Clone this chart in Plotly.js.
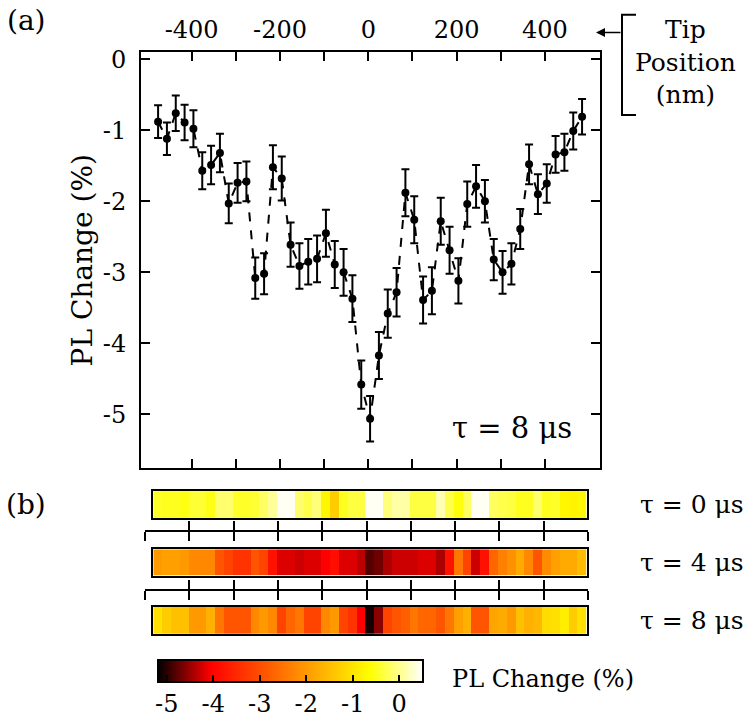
<!DOCTYPE html>
<html>
<head>
<meta charset="utf-8">
<script src="https://cdn.plot.ly/plotly-3.0.1.min.js"></script>
<style>
  html, body { margin: 0; padding: 0; background: #fff; }
  #chart { width: 748px; height: 728px; }
</style>
</head>
<body>
<div id="chart"></div>
<script>
// tip position (nm) of each measurement / heatmap cell
const tipPos = [-476, -456, -436, -416, -396, -376, -356, -336, -316, -296,
  -276, -256, -236, -216, -196, -176, -156, -136, -116, -96,
  -76, -56, -36, -16, 4, 24, 44, 64, 84, 104,
  124, 144, 164, 184, 204, 224, 244, 264, 284, 304,
  324, 344, 364, 384, 404, 424, 444, 464, 484];

// (a) PL change at tau = 8 us, with error bars
const plChange = [-0.88, -1.12, -0.76, -0.89, -0.98, -1.57, -1.49, -1.32, -2.03, -1.74,
  -1.72, -3.08, -3.02, -1.52, -1.68, -2.61, -2.91, -2.85, -2.81, -2.45,
  -2.89, -3.00, -3.37, -4.58, -5.06, -4.17, -3.58, -3.28, -1.88, -2.26,
  -3.39, -3.26, -2.28, -2.69, -3.12, -2.04, -1.79, -2.00, -2.82, -3.00,
  -2.88, -2.39, -1.48, -1.90, -1.75, -1.34, -1.31, -1.01, -0.81];
const plErr = [0.23, 0.23, 0.25, 0.25, 0.26, 0.26, 0.27, 0.27, 0.28, 0.28,
  0.28, 0.29, 0.29, 0.31, 0.31, 0.31, 0.32, 0.32, 0.33, 0.33,
  0.33, 0.33, 0.33, 0.34, 0.32, 0.33, 0.34, 0.34, 0.33, 0.33,
  0.33, 0.33, 0.33, 0.33, 0.32, 0.32, 0.30, 0.30, 0.29, 0.30,
  0.29, 0.28, 0.28, 0.28, 0.27, 0.26, 0.26, 0.26, 0.25];

// (b) heatmap strips
const stripLabels = ['τ = 0 μs', 'τ = 4 μs', 'τ = 8 μs'];
const strip0 = [-0.45, -0.5, -0.5, -0.55, -0.4, -0.4, -0.55, -0.15, -0.15, -0.45,
  -0.45, -0.4, -0.2, 0.05, 0.45, 0.45, -0.15, -0.3, -0.1, -0.75,
  -1.32, -0.5, -0.35, -0.35, 0.45, 0.45, -0.1, 0.1, 0.1, -0.35,
  -0.35, -0.35, 0.15, -0.3, -0.6, -0.2, 0.45, 0.45, -0.2, -0.3,
  -0.35, -0.5, -0.5, -0.15, -0.5, -0.45, -0.75, -0.8, -0.75];
const strip4 = [-2.01, -1.92, -1.92, -2.01, -2.24, -2.24, -2.24, -2.92, -3.15, -3.38,
  -3.38, -2.92, -3.15, -3.83, -4.21, -4.21, -4.29, -4.21, -4.21, -4.06,
  -3.88, -4.21, -4.21, -4.36, -4.82, -4.70, -4.44, -4.29, -4.29, -4.29,
  -4.21, -4.21, -4.44, -3.83, -2.46, -3.15, -4.29, -3.83, -2.69, -2.35,
  -2.12, -1.78, -2.24, -2.92, -2.18, -1.92, -1.78, -1.78, -1.55];
const strip8 = [-1.06, -1.32, -1.49, -1.49, -2.01, -2.01, -1.70, -2.46, -2.92, -2.92,
  -2.92, -2.24, -2.01, -2.24, -3.15, -2.69, -2.46, -3.15, -3.15, -2.24,
  -2.01, -3.15, -3.38, -4.06, -5.10, -4.58, -3.15, -2.92, -2.78, -2.46,
  -2.69, -2.69, -2.92, -2.46, -1.92, -1.70, -2.92, -2.92, -1.85, -1.78,
  -2.01, -1.49, -1.70, -1.60, -1.10, -1.06, -0.87, -1.32, -1.06];

const yTicks = [0, -1, -2, -3, -4, -5];
const xTicks = [-400, -300, -200, -100, 0, 100, 200, 300, 400];
const xTickText = ['-400', '', '-200', '', '0', '', '200', '', '400'];
const sepTicks = [-500, -400, -300, -200, -100, 0, 100, 200, 300, 400, 500];
const cbTicks = [-5, -4, -3, -2, -1, 0];

const W = 748, H = 728;
const px = x => x / W;
const py = y => 1 - y / H;
const FONT = 'DejaVu Serif';

// paper-positioned text, always centred on (x, y) in pixels
const label = (text, x, y, size, extra) => ({
  text, x: px(x), y: py(y), xref: 'paper', yref: 'paper',
  xanchor: 'center', yanchor: 'middle', showarrow: false, font: { size },
  ...extra,
});

const traces = [{
  x: tipPos, y: plChange,
  type: 'scatter', mode: 'lines+markers',
  line: { color: '#000', width: 2, dash: 'dash' },
  marker: { color: '#000', size: 8 },
  error_y: { type: 'data', array: plErr, visible: true, color: '#000', thickness: 2, width: 4 },
  hoverinfo: 'skip',
}];

[strip0, strip4, strip8].forEach((z, i) => {
  traces.push({
    type: 'heatmap', x: tipPos, y: [0], z: [z],
    coloraxis: 'coloraxis',
    xaxis: 'x' + (i + 2), yaxis: 'y' + (i + 2),
    hoverinfo: 'skip',
  });
});
// invisible traces so each tick ruler (two overlaid axes) gets its subplots
['x5', 'x7', 'x6', 'x8'].forEach((xa, i) => {
  traces.push({
    x: [0], y: [0.5], type: 'scatter', mode: 'markers',
    marker: { opacity: 0 }, showlegend: false, hoverinfo: 'skip',
    xaxis: xa, yaxis: i < 2 ? 'y5' : 'y6',
  });
});

const frameAx = {
  showline: true, mirror: true, linecolor: '#000', linewidth: 2,
  ticks: '', showticklabels: false, showgrid: false, zeroline: false, fixedrange: true,
};
const stripDom = [[500, 527.3], [559.3, 586], [618, 645.3]];
const sepY = [540, 600];

const layout = {
  width: W, height: H,
  margin: { l: 0, r: 0, t: 0, b: 0 },
  paper_bgcolor: '#fff', plot_bgcolor: 'rgba(0,0,0,0)',
  showlegend: false,
  font: { family: FONT, color: '#000', size: 24 },
  xaxis: {
    domain: [px(141), px(600)], range: [-514.7, 524.6], anchor: 'y', side: 'top',
    tickvals: xTicks, ticktext: xTickText,
    ticks: 'inside', ticklen: 9, tickwidth: 2, tickcolor: '#000',
    showline: true, mirror: 'ticks', linecolor: '#000', linewidth: 2,
    showgrid: false, zeroline: false, ticklabelstandoff: 2,
    tickfont: { size: 24 },
  },
  yaxis: {
    domain: [py(477), py(53)], range: [-5.76, 0.1], anchor: 'x',
    tickvals: yTicks, ticktext: yTicks.map(String),
    ticks: 'inside', ticklen: 9, tickwidth: 2, tickcolor: '#000',
    showline: true, mirror: 'ticks', linecolor: '#000', linewidth: 2,
    showgrid: false, zeroline: false, ticklabelstandoff: 8,
    tickfont: { size: 24 },
    title: { text: 'PL Change (%)', font: { size: 28 }, standoff: 2 },
  },
  coloraxis: {
    cmin: -5.2, cmax: 0.5,
    colorscale: [[0, '#000000'], [0.2, '#ff0000'], [0.8, '#ffff00'], [1, '#ffffff']],
    colorbar: {
      orientation: 'h', x: px(290), xanchor: 'center', y: py(672), yanchor: 'top',
      len: 265, lenmode: 'pixels', thickness: 22, thicknessmode: 'pixels',
      outlinewidth: 2, outlinecolor: '#000', xpad: 0, ypad: 0,
      tickvals: cbTicks, ticktext: cbTicks.map(String),
      ticks: 'inside', ticklen: 8, tickwidth: 2, tickcolor: '#000',
      tickfont: { size: 24 },
    },
  },
  annotations: [
    label('(a)', 26, 21, 28),
    label('(b)', 26, 514, 28),
    label('τ = 8 μs', 512, 436, 29),
    label('Tip<br>Position<br>(nm)', 685, 63, 25),
    label('', 596, 33, 12, { showarrow: true, ax: 26, ay: 0, arrowhead: 2, arrowsize: 1.2,
      arrowwidth: 1.5, arrowcolor: '#000' }),
    label('PL Change (%)', 450, 691, 24, { xanchor: 'left' }),
  ],
  shapes: [
    { type: 'path', xref: 'paper', yref: 'paper',
      path: `M ${px(636)} ${py(15)} L ${px(622)} ${py(15)} L ${px(622)} ${py(117)} L ${px(636)} ${py(117)}`,
      line: { color: '#000', width: 2 } },
  ],
};

stripDom.forEach((d, i) => {
  const k = i + 2;
  layout['xaxis' + k] = { ...frameAx, domain: [px(153.3), px(586.7)], range: [-486, 494], anchor: 'y' + k };
  layout['yaxis' + k] = { ...frameAx, domain: [py(d[1]), py(d[0])], range: [-0.5, 0.5], anchor: 'x' + k };
  layout.annotations.push(label(stripLabels[i], 692, (d[0] + d[1]) / 2, 25));
});

// tick rulers between the strips: two overlaid axes on one line, ticks up and down
sepY.forEach((y, i) => {
  const ya = 'y' + (i + 5);
  const ruler = {
    domain: [px(145), px(588)], range: [-500, 500], anchor: ya, side: 'bottom',
    tickvals: sepTicks, ticklen: 9, tickwidth: 2, tickcolor: '#000',
    showline: true, linecolor: '#000', linewidth: 2,
    showticklabels: false, showgrid: false, zeroline: false,
  };
  layout['xaxis' + (i + 5)] = { ...ruler, ticks: 'outside' };
  layout['xaxis' + (i + 7)] = { ...ruler, ticks: 'inside', overlaying: 'x' + (i + 5) };
  layout['yaxis' + (i + 5)] = {
    domain: [py(y), py(y - 10)], range: [0, 1], anchor: 'x' + (i + 5), visible: false,
  };
});

Plotly.newPlot('chart', traces, layout, { displayModeBar: false, staticPlot: true });
</script>
</body>
</html>
